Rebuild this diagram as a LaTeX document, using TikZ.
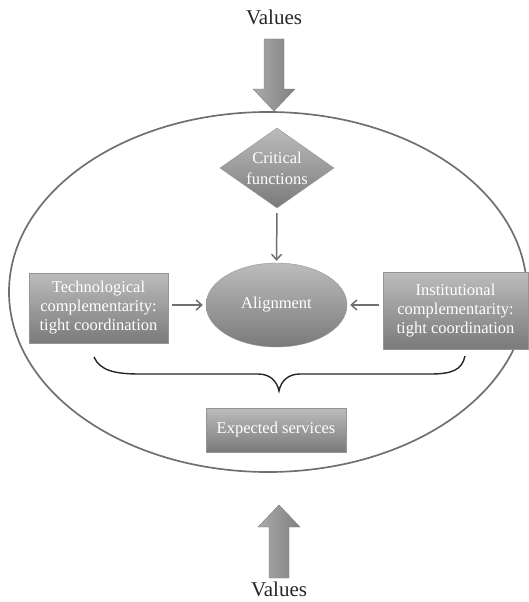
\documentclass[tikz,border=0pt]{standalone}
\usepackage{fontspec}
\setmainfont{Liberation Serif}
\usetikzlibrary{arrows.meta,shapes.geometric,positioning}
\definecolor{BoxTop}{RGB}{188,188,188}
\definecolor{BoxBottom}{RGB}{122,122,122}
\definecolor{LineGray}{RGB}{112,112,112}
\definecolor{ArrowLight}{RGB}{170,170,170}
\definecolor{ArrowDark}{RGB}{128,128,128}

\begin{document}
\begin{tikzpicture}[x=1pt, y=-1pt,
		shadedbox/.style={top color=BoxTop, bottom color=BoxBottom, draw=BoxBottom!80,
			text=white, align=center, inner sep=0pt, font=\fontsize{16.5}{19}\selectfont},
		conn/.style={-{Straight Barb[length=5.5pt, width=10pt]}, LineGray, line width=1.5pt},
		valuestext/.style={text=black!85, font=\fontsize{21}{24}\selectfont}
	]
	\useasboundingbox (0,0) rectangle (529,602);
	
	% outer boundary
	\draw[LineGray, line width=1.7pt] (268,292) ellipse [x radius=259, y radius=180];
	
	% values arrows
	\node[valuestext] (valtop) at (274,17) {Values};
	\node[valuestext] (valbot) at (279,589) {Values};
	\shade[left color=ArrowLight, right color=ArrowDark, draw=ArrowDark]
		(264,39) -- (284,39) -- (284,89) -- (295,89) -- (274,111) -- (253,89) -- (264,89) -- cycle;
	\shade[left color=ArrowLight, right color=ArrowDark, draw=ArrowDark]
		(269,578) -- (289,578) -- (289,527) -- (300,527) -- (279,505) -- (258,527) -- (269,527) -- cycle;
	
	% inner nodes
	\node[shadedbox, diamond, aspect=1.45, inner sep=-2pt, minimum width=114, minimum height=80, font=\fontsize{16.5}{21}\selectfont] (crit) at (277,168) {Critical\\functions};
	\node[shadedbox, ellipse, minimum width=141, minimum height=84] (align) at (276.5,305) {Alignment};
	\node[shadedbox, rectangle, minimum width=139, minimum height=70] (tech) at (98.5,308) {Technological\\complementarity:\\tight coordination};
	\node[shadedbox, rectangle, minimum width=145, minimum height=77] (inst) at (455.5,310.5) {Institutional\\complementarity:\\tight coordination};
	\node[shadedbox, rectangle, minimum width=140, minimum height=44] (serv) at (276,430) {Expected services};
	
	\draw[conn, shorten <=5pt, shorten >=2pt] (crit.south) -- (align.north);
	\draw[conn, shorten <=4pt, shorten >=3pt] (tech.east |- align) -- (align.west);
	\draw[conn, shorten <=4pt, shorten >=3pt] (inst.west |- align) -- (align.east);
	
	% brace
	\draw[black!85, line width=1.4pt]
		(94,357) .. controls (100,371) and (116,374) .. (140,374) -- (258,374)
		.. controls (270,374) and (277,381) .. (279,391)
		.. controls (281,381) and (288,374) .. (300,374) -- (430,374)
		.. controls (452,374) and (462,370) .. (465,356);
\end{tikzpicture}
\end{document}
